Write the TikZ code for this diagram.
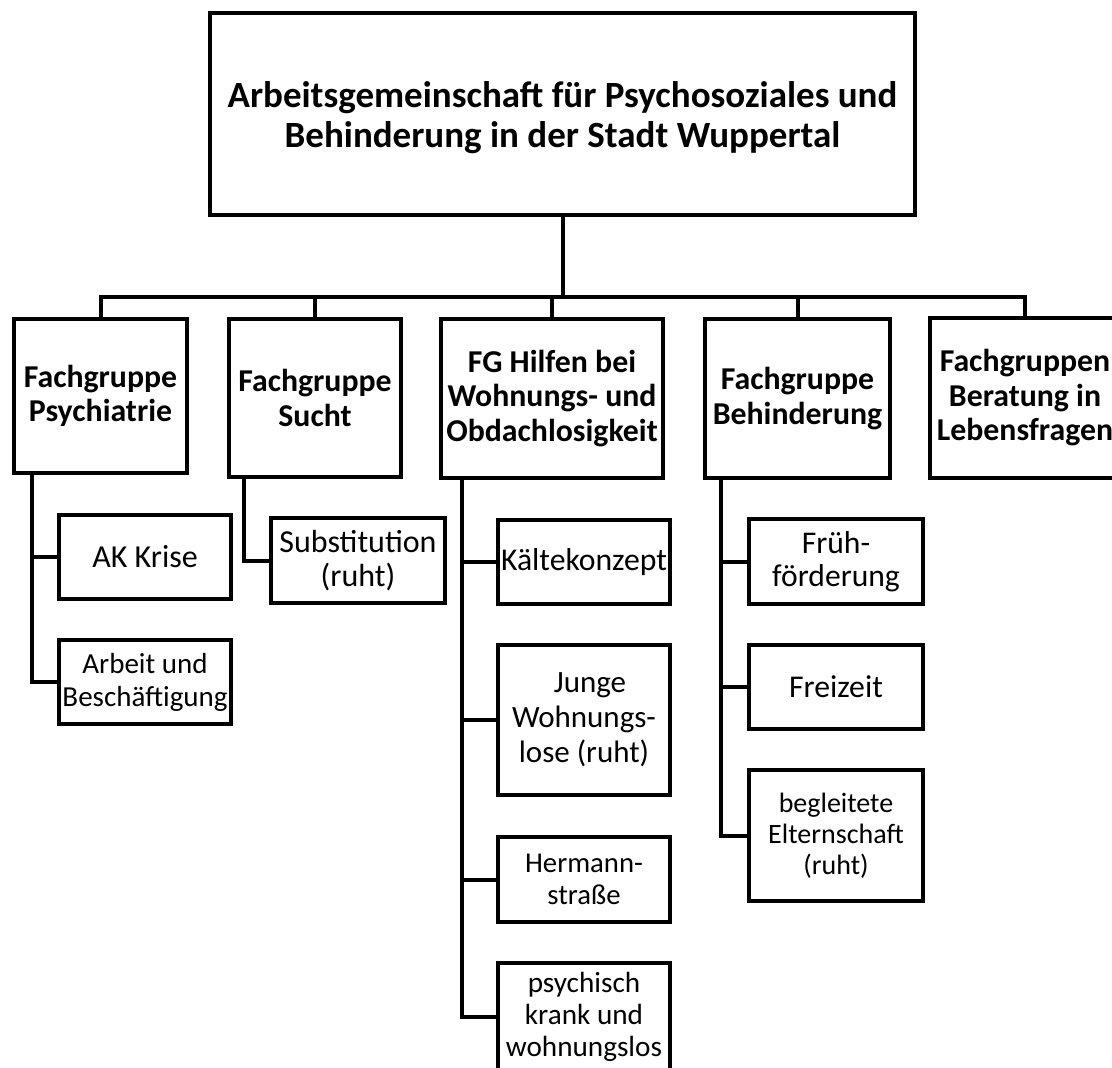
\documentclass[tikz,border=0pt]{standalone}
\usepackage{fontspec}
\setmainfont{Carlito}
\begin{document}
\begin{tikzpicture}[x=1pt,y=-1pt,
  boxbase/.style={draw=black, line width=4pt, fill=white, inner sep=0pt, align=center},
  topbox/.style={boxbase, font=\bfseries\fontsize{37}{40}\selectfont},
  grpbox/.style={boxbase, font=\bfseries\fontsize{31.8}{34.5}\selectfont},
  leafbox/.style={boxbase, font=\fontsize{32}{34}\selectfont},
  conn/.style={draw=black, line width=4pt}]
\useasboundingbox (0,0) rectangle (1112,1068);
\clip (0,0) rectangle (1112,1068);

% top
\node[topbox, minimum width=705pt, minimum height=202pt] (top) at (562.5,114)
  {\raisebox{-5pt}[\height][\depth]{\begin{tabular}{@{}c@{}}Arbeitsgemeinschaft für Psychosoziales und\\Behinderung in der Stadt Wuppertal\end{tabular}}};

% groups
\node[grpbox, minimum width=173pt, minimum height=154pt] (psy) at (100.5,396) {Fachgruppe\\Psychiatrie};
\node[grpbox, minimum width=172pt, minimum height=158pt] (sucht) at (315,398) {Fachgruppe\\Sucht};
\node[grpbox, minimum width=222pt, minimum height=159pt] (fg) at (552,398.5) {FG Hilfen bei\\Wohnungs- und\\Obdachlosigkeit};
\node[grpbox, minimum width=185pt, minimum height=159pt] (beh) at (797.5,398.5) {Fachgruppe\\Behinderung};
\node[grpbox, minimum width=190pt, minimum height=160pt] (ber) at (1025,398) {Fachgruppen\\Beratung in\\Lebensfragen};

% leaves
\node[leafbox, minimum width=172pt, minimum height=84pt] (ak) at (145,557) {AK Krise};
\node[leafbox, minimum width=172pt, minimum height=84pt, font=\fontsize{29}{33}\selectfont] (arb) at (145,682) {Arbeit und\\Beschäftigung};
\node[leafbox, minimum width=174pt, minimum height=85pt] (sub) at (358,560.5) {Substitution\\(ruht)};
\node[leafbox, minimum width=172pt, minimum height=84pt, font=\fontsize{31.7}{34}\selectfont] (kal) at (584,562) {Kältekonzept};
\node[leafbox, minimum width=172pt, minimum height=150pt, font=\fontsize{31}{35}\selectfont] (jun) at (584,720) {\hspace*{12pt}Junge\\Wohnungs-\\lose (ruht)};
\node[leafbox, minimum width=172pt, minimum height=85pt, font=\fontsize{28.7}{32}\selectfont] (her) at (584,879.5) {Hermann-\\straße};
\node[leafbox, minimum width=172pt, minimum height=108pt, font=\fontsize{29.2}{32}\selectfont] (psk) at (584,1017) {psychisch\\krank und\\wohnungslos};
\node[leafbox, minimum width=174pt, minimum height=85pt, font=\fontsize{31.6}{33}\selectfont] (fru) at (836,561.5) {Früh-\\förderung};
\node[leafbox, minimum width=174pt, minimum height=84pt, font=\fontsize{31.7}{34}\selectfont] (fre) at (836,687) {Freizeit};
\node[leafbox, minimum width=174pt, minimum height=131pt, font=\fontsize{28}{31}\selectfont] (beg) at (836,835.5) {begleitete\\Elternschaft\\(ruht)};

% bus
\coordinate (busy) at (0,297);
\draw[conn] (top.south) -- (top.south |- busy);
\draw[conn] (psy.north) |- (ber.north |- busy) -- (ber.north);
\draw[conn] (sucht.north) -- (sucht.north |- busy);
\draw[conn] (fg.north) -- (fg.north |- busy);
\draw[conn] (beh.north) -- (beh.north |- busy);

% spines
\coordinate (psyspine) at (32,0);
\coordinate (suchtspine) at (244,0);
\coordinate (fgspine) at (462,0);
\coordinate (behspine) at (721,0);

\draw[conn] (psy.south -| psyspine) |- (arb.west);
\draw[conn] (psyspine |- ak.west) -- (ak.west);

\draw[conn] (sucht.south -| suchtspine) |- (sub.west);

\draw[conn] (fg.south -| fgspine) |- (psk.west);
\draw[conn] (fgspine |- kal.west) -- (kal.west);
\draw[conn] (fgspine |- jun.west) -- (jun.west);
\draw[conn] (fgspine |- her.west) -- (her.west);

\draw[conn] (beh.south -| behspine) |- (beg.west);
\draw[conn] (behspine |- fru.west) -- (fru.west);
\draw[conn] (behspine |- fre.west) -- (fre.west);
\end{tikzpicture}
\end{document}
